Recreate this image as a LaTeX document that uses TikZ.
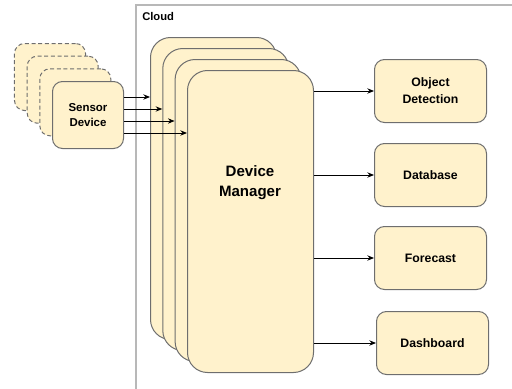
\documentclass[tikz,border=0pt]{standalone}
\usepackage{fontspec}
\setmainfont{Liberation Sans}
\usetikzlibrary{arrows.meta}
\definecolor{boxfill}{HTML}{FFF2CC}
\definecolor{boxline}{HTML}{6E6E6E}
\definecolor{frameline}{HTML}{B8B8B8}
\tikzset{
  card/.style={draw=boxline, fill=boxfill, line width=0.75pt, rounded corners=7.5pt,
    anchor=north west, inner sep=0pt, font=\bfseries\fontsize{9.2}{12.8}\selectfont, align=center},
  ghost/.style={card, dash pattern=on 3pt off 2pt},
  sensorbox/.style={minimum width=53.25pt, minimum height=50.25pt},
  svcbox/.style={card, minimum width=84pt, minimum height=47.25pt},
  dmbox/.style={card, rounded corners=15pt, minimum width=94.5pt, minimum height=226.5pt},
  arr/.style={-{Stealth[length=5pt,width=4pt]}, line width=0.75pt, black},
}
\begin{document}
\begin{tikzpicture}[x=0.75pt, y=-0.75pt]
\useasboundingbox (0,0) rectangle (512,389);
% cloud boundary
\draw[frameline, line width=1.1pt] (512,5) -| (136,389);
\node[anchor=west, font=\bfseries\fontsize{8.4}{10}\selectfont, inner sep=0pt] (cloudlbl) at (142,16) {Cloud};

% stacked sensor devices
\node[ghost, sensorbox] (s3) at (14,43) {};
\node[ghost, sensorbox] (s2) at (26.7,55.7) {};
\node[ghost, sensorbox] (s1) at (39.3,68.3) {};
\node[card, sensorbox, font=\bfseries\fontsize{8.6}{11.3}\selectfont] (s0) at (52,81) {Sensor\\Device};

% stacked device manager instances
\node[dmbox] (dm1) at (150,37) {};
\node[dmbox] (dm2) at (162.3,48) {};
\node[dmbox] (dm3) at (174.6,59) {};
\node[dmbox] (dm4) at (187,70) {};
\node[font=\bfseries\fontsize{11.3}{15}\selectfont, align=center, inner sep=0pt] (dmlbl) at (250,183) {Device\\Manager};

% downstream services
\node[svcbox] (od) at (374,59) {Object\\Detection};
\node[svcbox] (db) at (374,143) {Database};
\node[svcbox] (fc) at (374,226) {Forecast};
\node[svcbox] (dash) at (376,311) {Dashboard};

% sensor to device manager
\draw[arr] (s0.east |- 0,97) -- (dm1.west |- 0,97);
\draw[arr] (s0.east |- 0,109) -- (dm2.west |- 0,109);
\draw[arr] (s0.east |- 0,121) -- (dm3.west |- 0,121);
\draw[arr] (s0.east |- 0,133) -- (dm4.west |- 0,133);

% device manager to services
\draw[arr] (dm4.east |- od) -- (od);
\draw[arr] (dm4.east |- db) -- (db);
\draw[arr] (dm4.east |- fc) -- (fc);
\draw[arr] (dm4.east |- dash) -- (dash);
\end{tikzpicture}
\end{document}
